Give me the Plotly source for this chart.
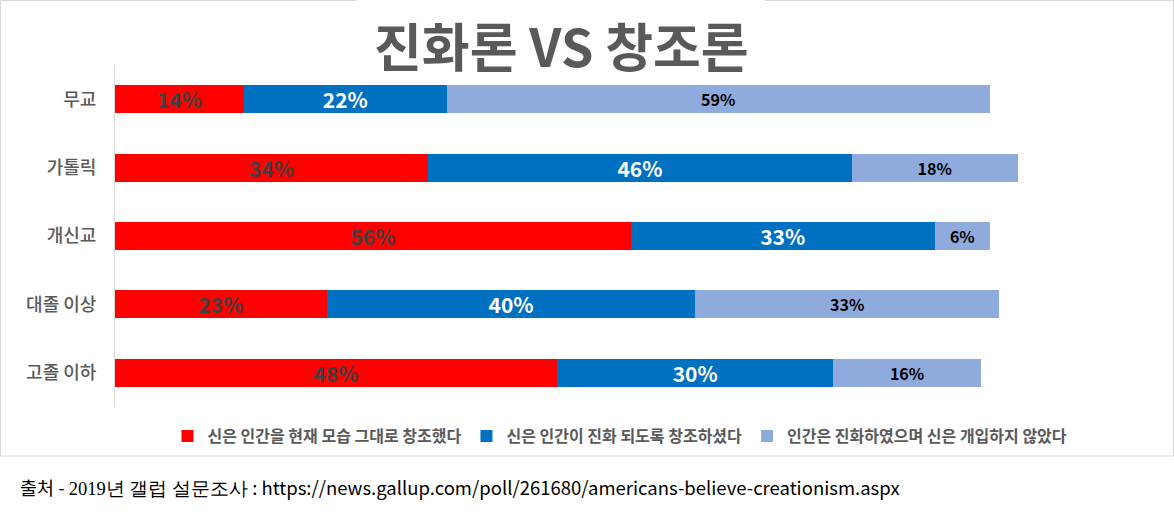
import plotly.graph_objects as go

categories = ["무교", "가톨릭", "개신교", "대졸 이상", "고졸 이하"]
created_as_is = [14, 34, 56, 23, 48]
guided_evolution = [22, 46, 33, 40, 30]
no_god_evolution = [59, 18, 6, 33, 16]
series_names = ["신은 인간을 현재 모습 그대로 창조했다", "신은 인간이 진화 되도록 창조하셨다", "인간은 진화하였으며 신은 개입하지 않았다"]
colors = ["#FF0000", "#0070C0", "#8FAADC"]
label_colors = ["#404040", "#FFFFFF", "#000000"]
label_sizes = [21, 21, 16]

FONT = "Noto Sans CJK KR, Malgun Gothic, sans-serif"

fig = go.Figure()
for vals, name, c, lc, ls in zip([created_as_is, guided_evolution, no_god_evolution], series_names, colors, label_colors, label_sizes):
    fig.add_trace(go.Bar(
        y=categories, x=vals, name=name, orientation="h",
        marker=dict(color=c, line=dict(width=0)),
        text=[f"{v}%" for v in vals], textposition="inside", insidetextanchor="middle",
        textfont=dict(color=lc, size=ls, family=FONT, weight="bold"),
        constraintext="none", textangle=0,
    ))

L, R, T, B = 115, 138, 65, 108
W, H = 1174, 515
pw, ph = W - L - R, H - T - B

def px(x):
    return (x - L) / pw

def py(y):
    return (H - B - y) / ph

border = dict(color="#D9D9D9", width=1)
fig.update_layout(
    width=W, height=H, barmode="stack", bargap=0.59,
    margin=dict(l=L, r=R, t=T, b=B),
    paper_bgcolor="white", plot_bgcolor="white",
    font=dict(family=FONT, color="#595959"),
    xaxis=dict(range=[0, 100], visible=False, fixedrange=True),
    yaxis=dict(categoryorder="array", categoryarray=categories, autorange="reversed",
               showline=True, linecolor="#D9D9D9", linewidth=1, ticks="",
               ticklabelstandoff=14,
               tickfont=dict(size=18, color="#595959", family=FONT, weight=500), showgrid=False),
    legend=dict(orientation="h", x=px(620), xanchor="center", y=py(436), yanchor="middle",
                traceorder="normal",
                font=dict(size=16, color="#595959", family=FONT, weight="bold"),
                itemwidth=30, tracegroupgap=0, itemsizing="constant",
                bgcolor="rgba(0,0,0,0)"),
    showlegend=True,
    shapes=[
        dict(type="line", xref="paper", yref="paper", x0=px(0.5), x1=px(357), y0=py(0.5), y1=py(0.5), line=border),
        dict(type="line", xref="paper", yref="paper", x0=px(765), x1=px(1173.5), y0=py(0.5), y1=py(0.5), line=border),
        dict(type="line", xref="paper", yref="paper", x0=px(0.5), x1=px(1173.5), y0=py(456), y1=py(456), line=border),
        dict(type="line", xref="paper", yref="paper", x0=px(0.5), x1=px(0.5), y0=py(0.5), y1=py(456), line=border),
        dict(type="line", xref="paper", yref="paper", x0=px(1173.5), x1=px(1173.5), y0=py(0.5), y1=py(456), line=border),
    ],
    annotations=[
        dict(text="진화론 VS 창조론", xref="paper", yref="paper", x=px(561), y=py(45),
             xanchor="center", yanchor="middle", showarrow=False,
             font=dict(size=52, color="#595959", family=FONT, weight="bold")),
        dict(text="출처 - <span style=\"font-family:Liberation Serif, serif\">2019년 갤럽 설문조사</span> : https://news.gallup.com/poll/261680/americans-believe-creationism.aspx",
             xref="paper", yref="paper", x=px(18), y=py(487), xanchor="left", yanchor="middle",
             showarrow=False, font=dict(size=18.5, color="#000000", family=FONT)),
    ],
)

fig.write_html("out.html")
